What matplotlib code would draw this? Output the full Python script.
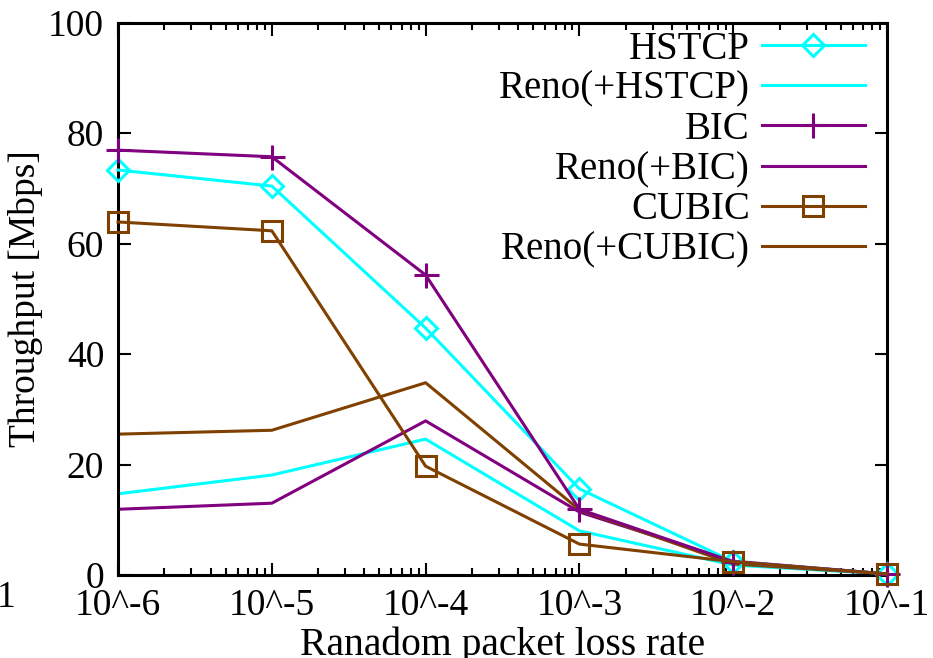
import numpy as np
import matplotlib.pyplot as plt
from matplotlib.ticker import LogLocator, NullFormatter, FixedLocator

plt.rcParams['font.family'] = ['Liberation Serif', 'DejaVu Serif']
plt.rcParams['font.size'] = 27

loss = [1e-6, 1e-5, 1e-4, 1e-3, 1e-2, 1e-1]
tick_labels = ['10^-6', '10^-5', '10^-4', '10^-3', '10^-2', '10^-1']

hstcp = [73.3, 70.4, 44.7, 15.6, 2.4, 0.2]
reno_hstcp = [14.7, 18.1, 24.6, 8.0, 1.8, 0.2]
bic = [76.9, 75.7, 54.3, 11.9, 2.4, 0.2]
reno_bic = [11.9, 13.0, 27.9, 11.4, 2.5, 0.2]
cubic = [63.9, 62.3, 19.7, 5.6, 2.4, 0.2]
reno_cubic = [25.5, 26.2, 34.8, 11.8, 2.0, 0.2]

cyan = '#00ffff'
purple = '#800080'
brown = '#804000'

fig = plt.figure(figsize=(9.33, 6.58), dpi=100)
ax = fig.add_axes([0.1265, 0.1261, 0.8242, 0.8397])

lw = 2.2
ax.plot(loss, hstcp, color=cyan, lw=lw, marker='D', ms=11, mfc='none', mew=2.2,
        label='HSTCP', clip_on=False, zorder=3)
ax.plot(loss, reno_hstcp, color=cyan, lw=lw, label='Reno(+HSTCP)')
ax.plot(loss, bic, color=purple, lw=lw, marker='+', ms=18, mew=2.2,
        label='BIC', clip_on=False, zorder=3)
ax.plot(loss, reno_bic, color=purple, lw=lw, label='Reno(+BIC)')
ax.plot(loss, cubic, color=brown, lw=lw, marker='s', ms=15, mfc='none', mew=2.2,
        label='CUBIC', clip_on=False, zorder=3)
ax.plot(loss, reno_cubic, color=brown, lw=lw, label='Reno(+CUBIC)')

ax.set_xscale('log')
ax.set_xlim(1e-6, 1e-1)
ax.set_ylim(0, 100)
ax.xaxis.set_major_locator(FixedLocator(loss))
ax.set_xticklabels(tick_labels)
ax.xaxis.set_minor_locator(LogLocator(base=10, subs=np.arange(2, 10)))
ax.xaxis.set_minor_formatter(NullFormatter())
ax.set_yticks([0, 20, 40, 60, 80, 100])
ax.tick_params(which='both', direction='in', top=True, right=True, width=1.5)
ax.tick_params(which='major', length=9, pad=10)
ax.tick_params(which='minor', length=5)
for s in ax.spines.values():
    s.set_linewidth(2.2)

ax.set_xlabel('Ranadom packet loss rate', fontsize=28.5, labelpad=2)
ax.set_ylabel('Throughput [Mbps]', labelpad=4)

ax.legend(loc='upper right', bbox_to_anchor=(0.971, 0.985), frameon=False,
          markerfirst=False, numpoints=1, fontsize=28,
          handlelength=2.65, handletextpad=0.3, labelspacing=0.08,
          borderpad=0, borderaxespad=0)

fig.text(-0.003, 0.091, '1', ha='left', va='center', fontsize=27)

fig.savefig('out.png', dpi=100)
